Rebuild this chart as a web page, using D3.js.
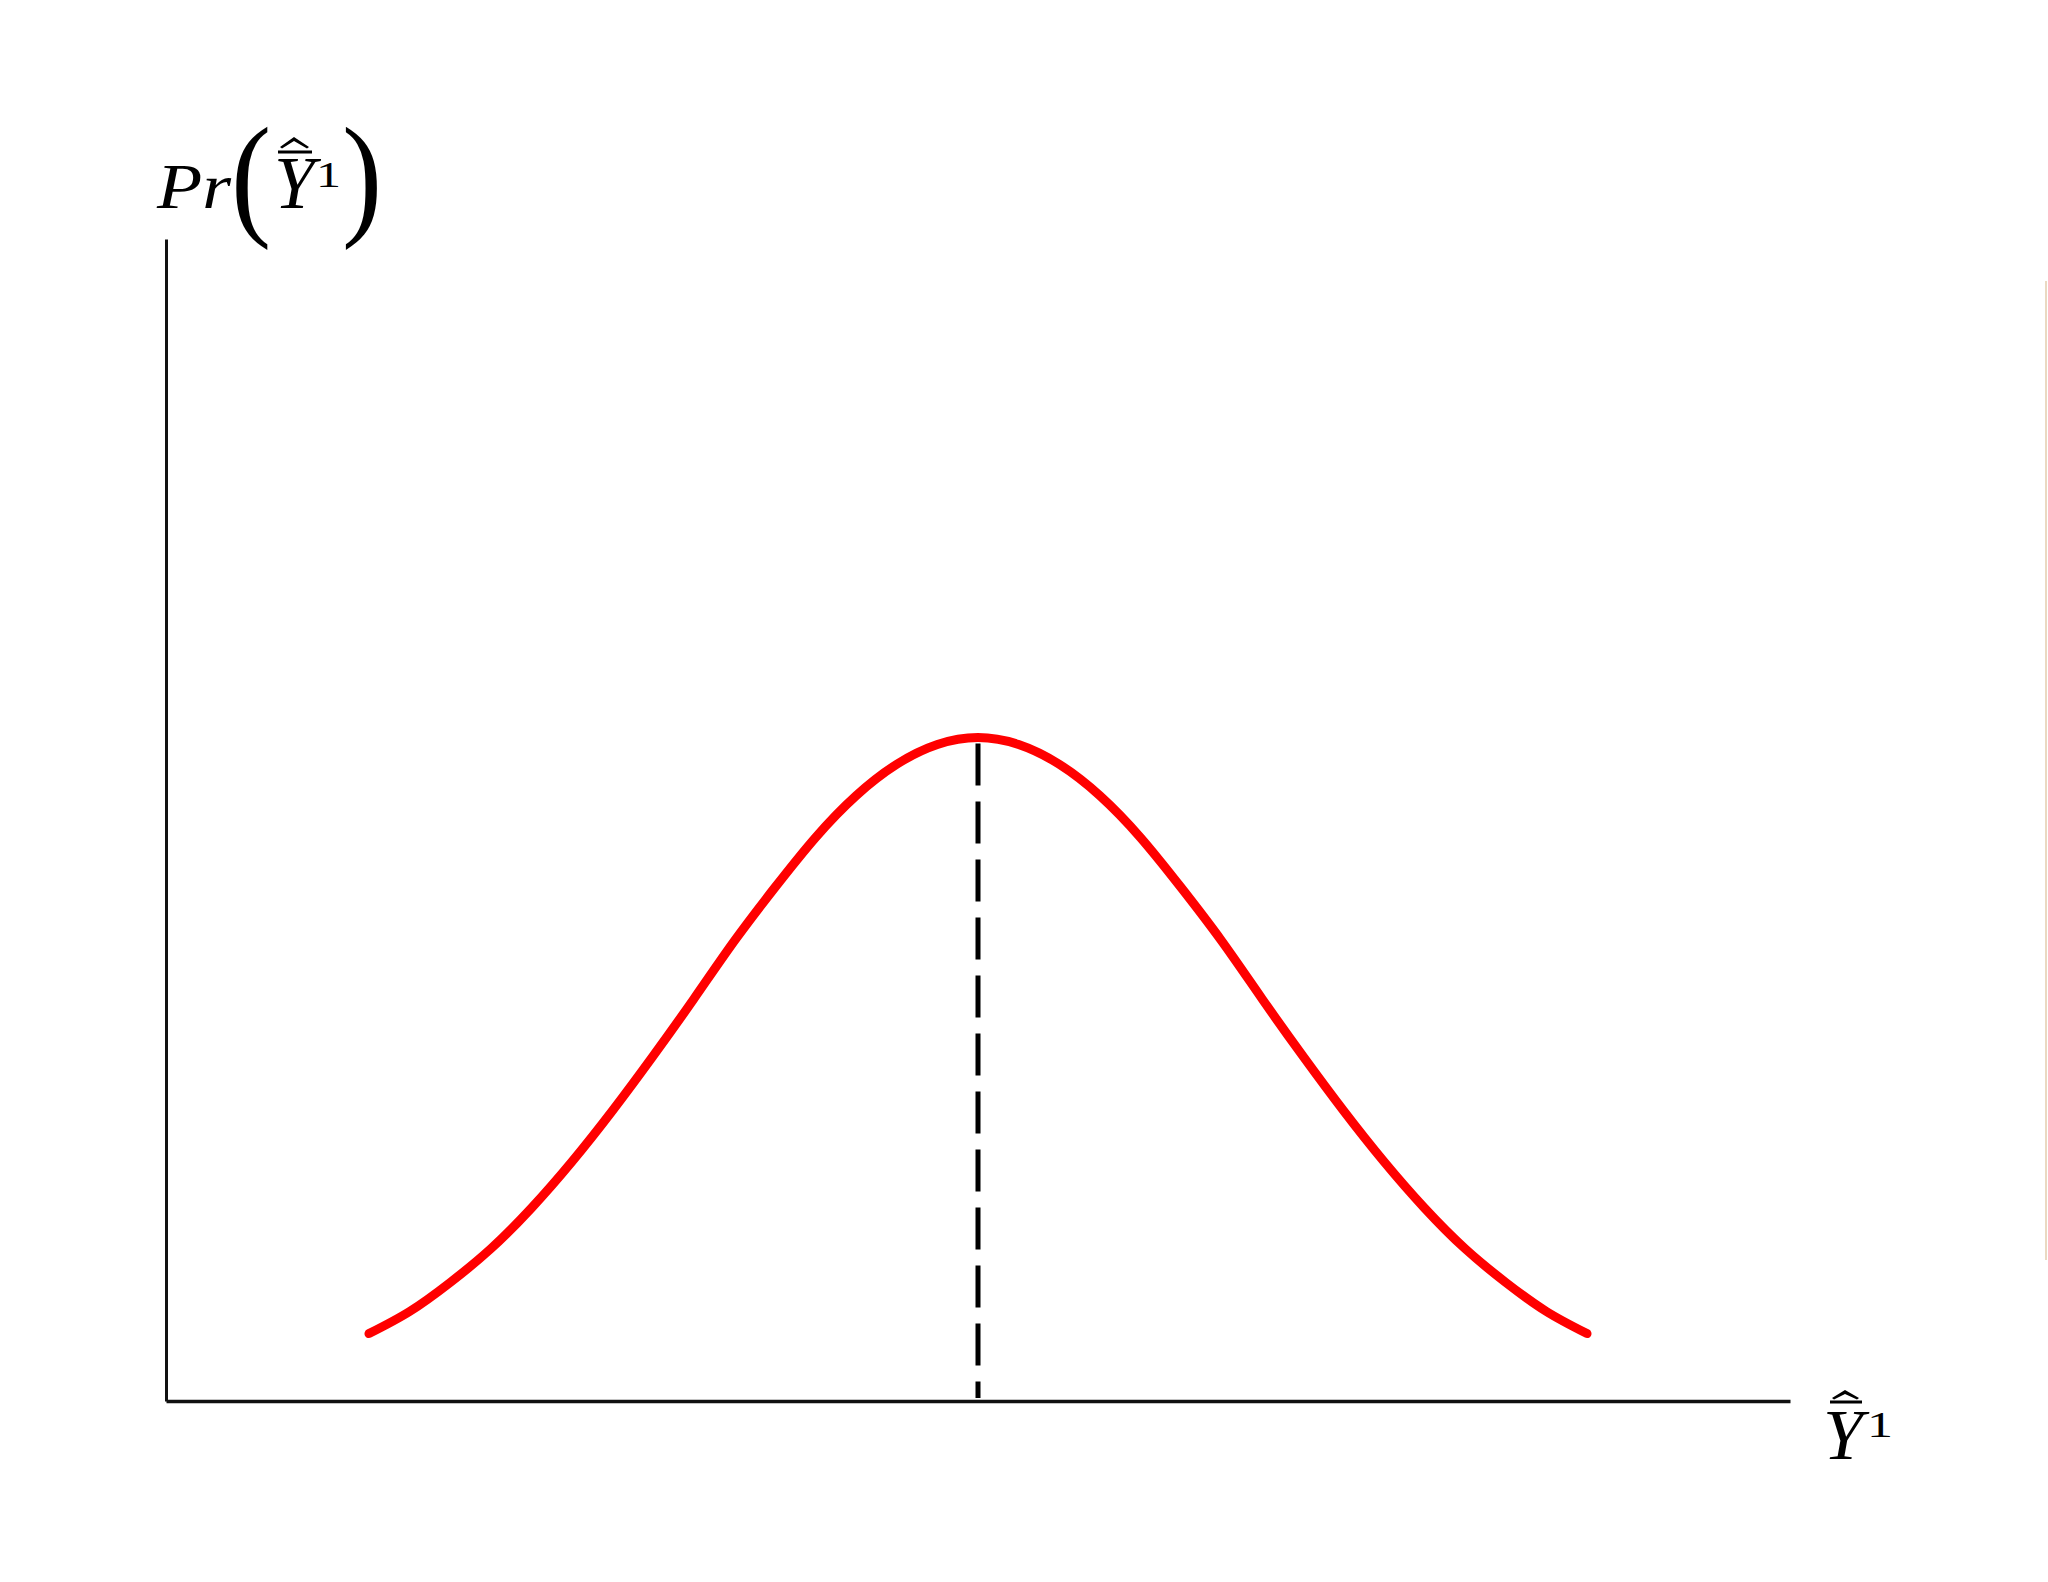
<!DOCTYPE html>
<html>
<head>
<meta charset="utf-8">
<script src="https://cdn.jsdelivr.net/npm/d3@7"></script>
<style>
  body { margin: 0; background: #fff; }
  .lbl { font-family: "Liberation Serif", "DejaVu Serif", serif; fill: #000; }
  .it { font-style: italic; }
</style>
</head>
<body>
<div id="vis"></div>
<script>

// curve values (x in axis units 0..10, y in 0..1)
var curveX = [1.25, 1.5, 1.75, 2.0, 2.25, 2.5, 2.75, 3.0, 3.25, 3.5, 3.75, 4.0, 4.25, 4.5, 4.75, 5.0,
              5.25, 5.5, 5.75, 6.0, 6.25, 6.5, 6.75, 7.0, 7.25, 7.5, 7.75, 8.0, 8.25, 8.5, 8.75];
var curveY = [0.058, 0.077, 0.102, 0.131, 0.166, 0.206, 0.250, 0.297, 0.346, 0.396, 0.442, 0.485, 0.521, 0.548, 0.565, 0.571,
              0.565, 0.548, 0.521, 0.485, 0.442, 0.396, 0.346, 0.297, 0.250, 0.206, 0.166, 0.131, 0.102, 0.077, 0.058];
var xDomain = [0, 10];
var yDomain = [0, 1];
var meanX = 5.0;
var peakY = 0.571;

var width = 2048;
var height = 1582;
var margin = {top: 239, right: 258, bottom: 181, left: 166};

var svg = d3.select("#vis")
  .append("svg")
    .attr("width", width)
    .attr("height", height);

var x = d3.scaleLinear().domain(xDomain).range([margin.left, width - margin.right]);
var y = d3.scaleLinear().domain(yDomain).range([height - margin.bottom, margin.top]);

var data = curveX.map(function(d, i) { return {x: d, y: curveY[i]}; });

// axes - only the domain lines, no ticks
svg.append("g")
    .attr("transform", "translate(0," + y(0) + ")")
    .call(d3.axisBottom(x).ticks(0).tickSizeOuter(0))
    .select(".domain")
      .attr("stroke", "#111")
      .attr("stroke-width", 3.5);

svg.append("g")
    .attr("transform", "translate(" + x(0) + ",0)")
    .call(d3.axisLeft(y).ticks(0).tickSizeOuter(0))
    .select(".domain")
      .attr("stroke", "#111")
      .attr("stroke-width", 3);

// dashed line at the mean
svg.append("line")
    .attr("x1", x(meanX)).attr("x2", x(meanX))
    .attr("y1", y(peakY) + 6)
    .attr("y2", y(0) - 3)
    .attr("stroke", "#000")
    .attr("stroke-width", 5)
    .attr("stroke-dasharray", "42,16");

// the red curve
var line = d3.line()
  .curve(d3.curveNatural)
  .x(function(d) { return x(d.x); })
  .y(function(d) { return y(d.y); });

svg.append("path")
    .datum(data)
    .attr("fill", "none")
    .attr("stroke", "#ff0000")
    .attr("stroke-width", 9)
    .attr("stroke-linecap", "round")
    .attr("stroke-linejoin", "round")
    .attr("d", line);

// hat + bar decoration over a Y glyph
function accent(xl, xr, barY, hatTop, hatBot) {
  svg.append("line")
    .attr("x1", xl).attr("x2", xr)
    .attr("y1", barY).attr("y2", barY)
    .attr("stroke", "#000").attr("stroke-width", 3);
  var mid = (xl + xr) / 2 - 1;
  svg.append("path")
    .attr("d", "M" + (xl + 2) + "," + hatBot + " L" + mid + "," + hatTop + " L" + (xr - 3) + "," + hatBot +
               " L" + (xr - 5) + "," + (hatBot + 1.5) + " L" + mid + "," + (hatTop + 4) + " L" + (xl + 4) + "," + (hatBot + 1.5) + "Z")
    .attr("fill", "#000");
}

// tall thin parenthesis
function paren(ch, px) {
  svg.append("text").attr("class", "lbl")
    .attr("transform", "translate(" + px + ",221) scale(1.05,1.17)")
    .style("font-size", "115px")
    .text(ch);
}

// y axis title  Pr(Y^1)
var lx = x(0);
svg.append("text").attr("class", "lbl it")
    .attr("x", lx - 9).attr("y", 208)
    .attr("textLength", 74)
    .attr("lengthAdjust", "spacingAndGlyphs")
    .style("font-size", "64px")
    .text("Pr");
paren("(", lx + 65);
svg.append("text").attr("class", "lbl it")
    .attr("x", lx + 108).attr("y", 208)
    .style("font-size", "73px")
    .text("Y");
accent(lx + 112, lx + 146, 152, 137, 147);
svg.append("text").attr("class", "lbl")
    .attr("x", lx + 150).attr("y", 187)
    .attr("textLength", 25)
    .attr("lengthAdjust", "spacingAndGlyphs")
    .style("font-size", "35px")
    .text("1");
paren(")", lx + 176);

// x axis title  Y^1
var rx = x(10);
svg.append("text").attr("class", "lbl it")
    .attr("x", rx + 33).attr("y", y(0) + 58)
    .style("font-size", "72px")
    .text("Y");
accent(rx + 40, rx + 72, y(0) + 1, y(0) - 11, y(0) - 3);
svg.append("text").attr("class", "lbl")
    .attr("x", rx + 77).attr("y", y(0) + 36)
    .attr("textLength", 26)
    .attr("lengthAdjust", "spacingAndGlyphs")
    .style("font-size", "36px")
    .text("1");

// faint slide edge on the right
svg.append("line")
    .attr("x1", width - 2).attr("x2", width - 2)
    .attr("y1", 281).attr("y2", 1260)
    .attr("stroke", "#ead9c2")
    .attr("stroke-width", 2);

</script>
</body>
</html>
